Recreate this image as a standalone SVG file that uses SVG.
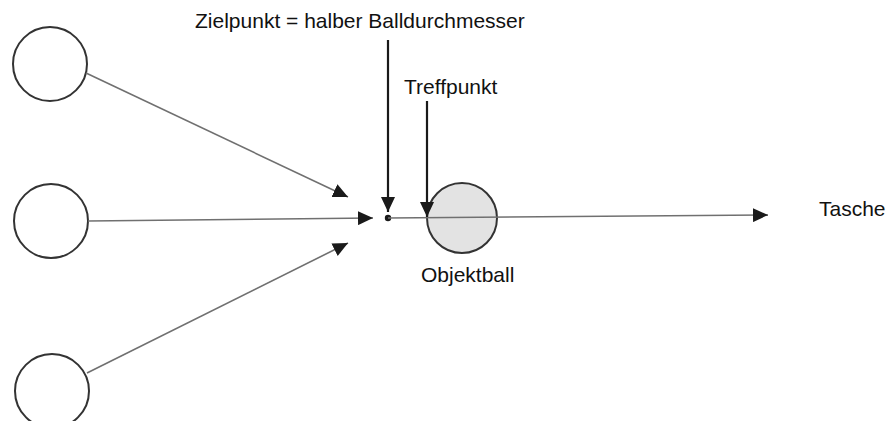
<svg xmlns="http://www.w3.org/2000/svg" width="893" height="421" viewBox="0 0 893 421">
  <style>
    .ball { fill: #ffffff; stroke: #333333; stroke-width: 2; }
    .object { fill: #e3e3e3; stroke: #333333; stroke-width: 2; }
    .path { fill: none; stroke: #707070; stroke-width: 1.6; }
    .pointer { fill: none; stroke: #1a1a1a; stroke-width: 2.2; }
    .label { font-family: "Liberation Sans", Arial, sans-serif; font-size: 21px; fill: #111111; }
  </style>
  <defs>
    <marker id="head" markerUnits="userSpaceOnUse" markerWidth="16" markerHeight="14" refX="15" refY="7" orient="auto">
      <path d="M0,0 L15,7 L0,14 z" fill="#1a1a1a"/>
    </marker>
  </defs>
  <rect width="893" height="421" fill="#ffffff"/>

  <!-- cue ball positions -->
  <g id="cue-top"><circle class="ball" cx="50" cy="64" r="37"/></g>
  <g id="cue-middle"><circle class="ball" cx="51" cy="221" r="37"/></g>
  <g id="cue-bottom"><circle class="ball" cx="52" cy="391" r="37"/></g>

  <!-- object ball -->
  <g id="objektball">
    <circle class="object" cx="462" cy="218" r="35"/>
    <text class="label" x="421" y="282">Objektball</text>
  </g>

  <!-- aiming point -->
  <g id="zielpunkt">
    <circle cx="388" cy="218" r="3.2" fill="#1a1a1a"/>
    <text class="label" x="195" y="28">Zielpunkt = halber Balldurchmesser</text>
  </g>

  <g id="treffpunkt">
    <text class="label" x="404" y="94">Treffpunkt</text>
  </g>

  <g id="tasche">
    <text class="label" x="819" y="216">Tasche</text>
  </g>

  <!-- connectors -->
  <g id="connectors">
    <line class="path" x1="86" y1="73" x2="348" y2="197" marker-end="url(#head)"/>
    <line class="path" x1="88" y1="221" x2="373" y2="218" marker-end="url(#head)"/>
    <line class="path" x1="87" y1="373" x2="348" y2="243" marker-end="url(#head)"/>
    <line class="path" x1="388" y1="218" x2="768" y2="215" marker-end="url(#head)"/>
    <line class="pointer" x1="388" y1="40" x2="388" y2="212" marker-end="url(#head)"/>
    <line class="pointer" x1="427" y1="101" x2="427" y2="217" marker-end="url(#head)"/>
  </g>
</svg>
